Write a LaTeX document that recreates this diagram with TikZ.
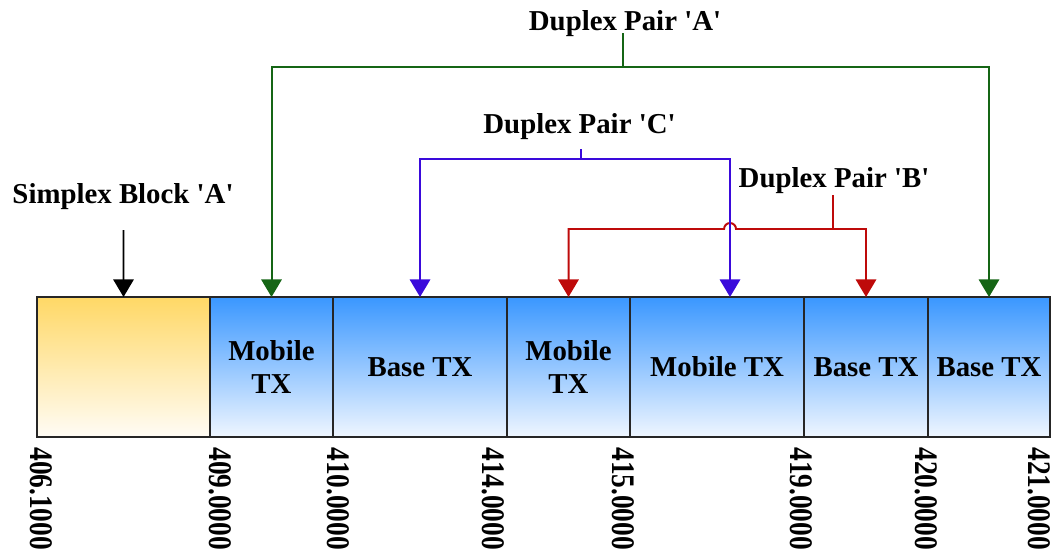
\documentclass[tikz,border=0pt]{standalone}
\usepackage{fontspec}
\setmainfont{Liberation Serif}
\usepackage{tikz}
\usepackage{xcolor}
\usetikzlibrary{arrows.meta}

\definecolor{pairA}{HTML}{156515}
\definecolor{pairC}{HTML}{3A0ADB}
\definecolor{pairB}{HTML}{BE0A0A}
\definecolor{simplexTop}{HTML}{FFD866}
\definecolor{simplexBot}{HTML}{FFFCF5}
\definecolor{txTop}{HTML}{3A97FF}
\definecolor{txBot}{HTML}{EFF6FF}

\begin{document}
\begin{tikzpicture}[x=0.025cm, y=-0.025cm,
  lbl/.style={font=\fontsize{20.5}{24}\selectfont\bfseries, inner sep=0, align=center},
  band/.style={draw=black!85, line width=1.2pt, inner sep=0, outer sep=0, anchor=north west,
    minimum height=3.5cm, top color=txTop, bottom color=txBot,
    font=\fontsize{20.5}{24}\selectfont\bfseries, align=center},
  freq/.style={font=\fontsize{19.5}{20}\selectfont\bfseries, rotate=-90, anchor=west, inner sep=0},
  link/.style={line width=1.4pt},
  tip/.style={-{Triangle[length=12.5pt,width=14.5pt]}}]
\useasboundingbox (0,0) rectangle (1052,555);

% channel blocks
\node[band, minimum width=4.325cm, top color=simplexTop, bottom color=simplexBot] (simplex) at (37,297) {};
\node[band, minimum width=3.075cm] (mob1) at (210,297) {Mobile\\TX};
\node[band, minimum width=4.35cm] (base1) at (333,297) {Base TX};
\node[band, minimum width=3.075cm] (mob2) at (507,297) {Mobile\\TX};
\node[band, minimum width=4.35cm] (mob3) at (630,297) {Mobile TX};
\node[band, minimum width=3.1cm] (base2) at (804,297) {Base TX};
\node[band, minimum width=3.05cm] (base3) at (928,297) {Base TX};

% frequencies
\node[freq] (f1) at (41,447) {\scalebox{1}[1.2]{406.1000}};
\node[freq] (f2) at (220,447) {\scalebox{1}[1.2]{409.0000}};
\node[freq] (f3) at (338,447) {\scalebox{1}[1.2]{410.0000}};
\node[freq] (f4) at (493,447) {\scalebox{1}[1.2]{414.0000}};
\node[freq] (f5) at (623,447) {\scalebox{1}[1.2]{415.0000}};
\node[freq] (f6) at (801,447) {\scalebox{1}[1.2]{419.0000}};
\node[freq] (f7) at (926,447) {\scalebox{1}[1.2]{420.0000}};
\node[freq] (f8) at (1039,447) {\scalebox{1}[1.2]{421.0000}};

% simplex
\node[lbl, anchor=base] (simplexlbl) at (123,203) {Simplex Block \textquotesingle A\textquotesingle};
\coordinate (sS) at (123.5,230);
\draw[line width=1.2pt, tip] (sS) -- (simplex.north);

% duplex pair A
\node[lbl, anchor=base] (pairAlbl) at (625,30) {Duplex Pair \textquotesingle A\textquotesingle};
\coordinate (sA) at (623,33);
\coordinate (jA) at (623,67);
\draw[link, pairA] (sA) -- (jA);
\draw[link, pairA, tip] (jA) -| (mob1.north);
\draw[link, pairA, tip] (jA) -| (base3.north);

% duplex pair B
\node[lbl, anchor=base] (pairBlbl) at (834,187) {Duplex Pair \textquotesingle B\textquotesingle};
\coordinate (sB) at (833,195);
\coordinate (jB) at (833,229);
\coordinate (hopR) at (736,229);
\draw[link, pairB] (sB) -- (jB);
\draw[link, pairB, tip] (jB) -| (base2.north);
\draw[link, pairB, tip] (jB) -- (hopR) arc[start angle=0, end angle=180, radius=4.25pt] -| (mob2.north);

% duplex pair C
\node[lbl, anchor=base] (pairClbl) at (579.5,133) {Duplex Pair \textquotesingle C\textquotesingle};
\coordinate (sC) at (581,149);
\coordinate (jC) at (581,159);
\coordinate (tC) at (730,297);
\draw[link, pairC] (sC) -- (jC);
\draw[link, pairC, tip] (jC) -| (base1.north);
\draw[link, pairC, tip] (jC) -| (tC);
\end{tikzpicture}
\end{document}
